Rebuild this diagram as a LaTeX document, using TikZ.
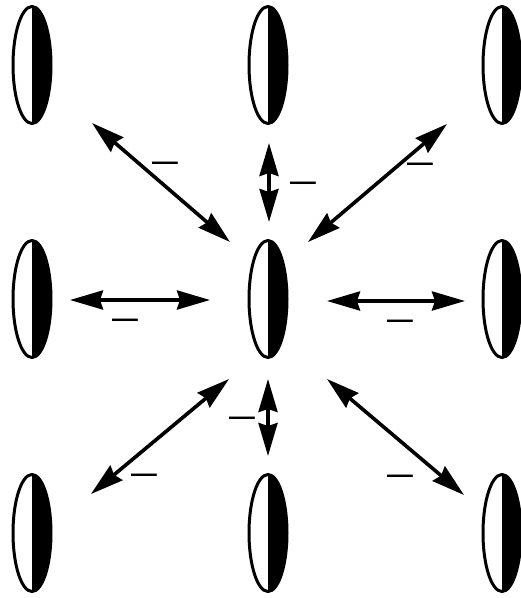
\documentclass[tikz,border=0pt]{standalone}
\usepackage{amsmath,amssymb}
\usepackage{tikz}
\usetikzlibrary{arrows.meta,calc,shapes.geometric}
\tikzset{
    every picture/.style={line cap=round,line join=round},
    grain/.style={draw=black,ellipse,line width=3pt,
      minimum width=38pt,minimum height=117pt,inner sep=0pt,outer sep=0pt,
      path picture={\fill[black] (path picture bounding box.north)
        rectangle (path picture bounding box.south east);}},
    pairarrow/.style={{Stealth[length=33pt,width=19pt,inset=3pt]}-{Stealth[length=33pt,width=19pt,inset=3pt]},
      draw=black,line width=3.6pt},
    signlabel/.style={inner sep=0pt,yshift=-11pt,font=\fontsize{46}{46}\selectfont\bfseries}
}
\newcommand{\repel}{\scalebox{1}[1.6]{--}}

\begin{document}
\begin{tikzpicture}[x=1pt,y=-1pt]
  \useasboundingbox (0,0) rectangle (521,598);
  % the nine grains
  \foreach \n/\x/\y in {tl/32/65,t/268/65,tr/502/65,
                        l/32/299,c/268/299,r/502/299,
                        bl/32/533,b/268/533,br/502/533} {
    \node[grain] (\n) at (\x,\y) {};
  }
  % repulsion between the centre and its neighbours
  \draw[pairarrow] ($(c)+(-38,-57)$) -- ($(tl)+(60,58)$);
  \draw[pairarrow] ($(c)+(1,-77)$) -- ($(t)+(1,78)$);
  \draw[pairarrow] ($(c)+(40,-57)$) -- ($(tr)+(-55,59)$);
  \draw[pairarrow] ($(c)+(-58,1)$) -- ($(l)+(38,1)$);
  \draw[pairarrow] ($(c)+(59,2)$) -- ($(r)+(-37,2)$);
  \draw[pairarrow] ($(c)+(-39,80)$) -- ($(bl)+(59,-39)$);
  \draw[pairarrow] ($(c)+(0,80)$) -- ($(b)+(0,-77)$);
  \draw[pairarrow] ($(c)+(59,80)$) -- ($(br)+(-38,-38)$);
  % signs
  \foreach \n/\x/\y in {stl/165/162,st/303/182,str/420/163,sl/125/319,
                        sr/400/320,sbl/144/474,sb/242/417,sbr/400/475} {
    \node[signlabel] (\n) at (\x,\y) {\repel};
  }
\end{tikzpicture}
\end{document}
